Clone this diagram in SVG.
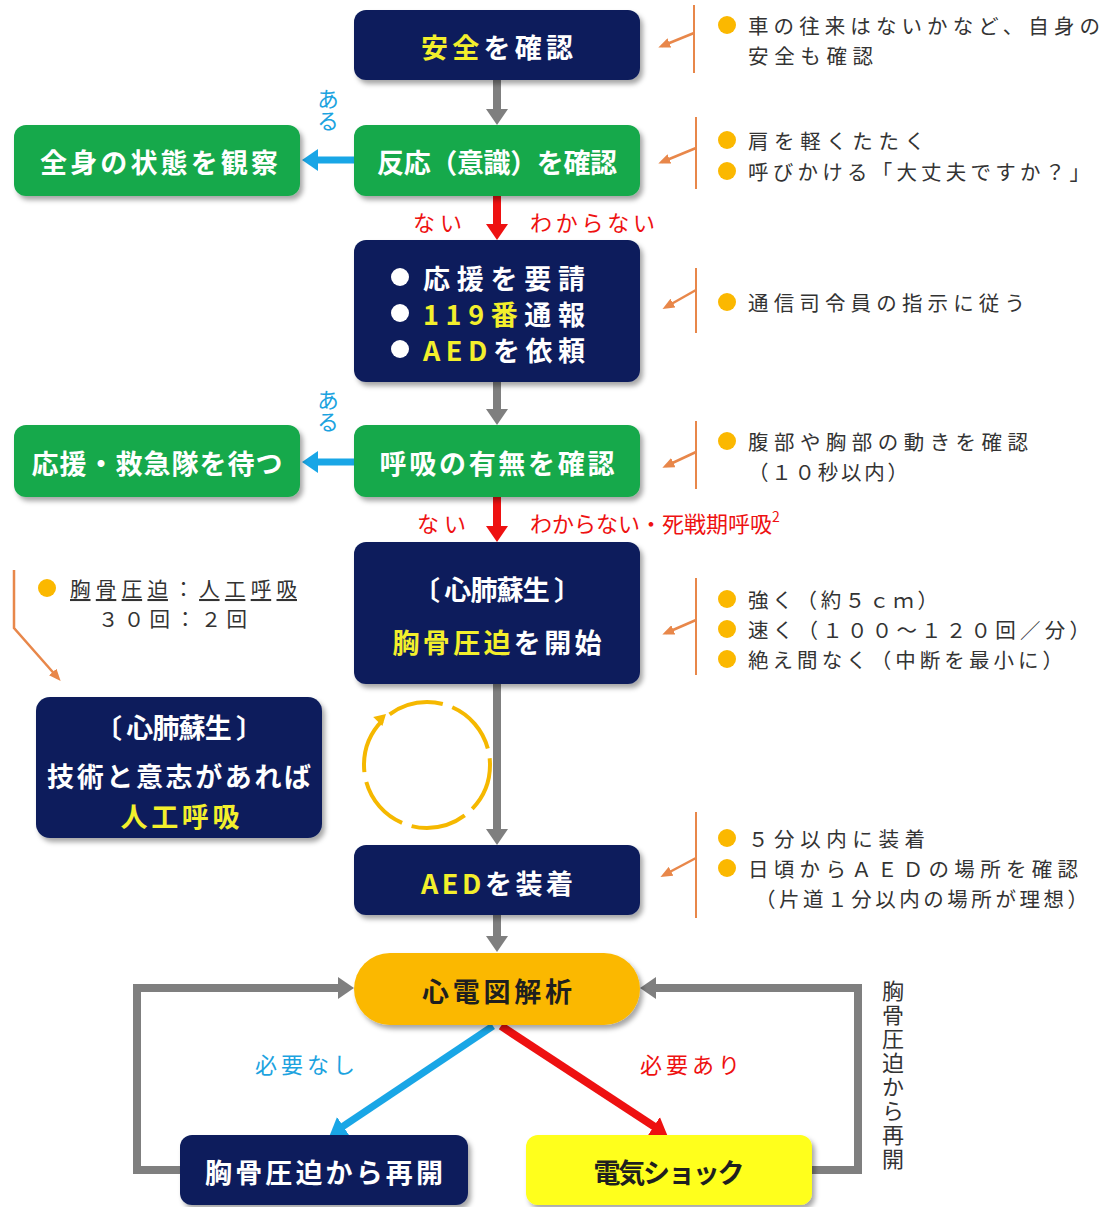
<svg xmlns="http://www.w3.org/2000/svg" width="1109" height="1207" viewBox="0 0 1109 1207">
<defs>
<filter id="sh" x="-10%" y="-10%" width="125%" height="130%">
<feDropShadow dx="3" dy="4" stdDeviation="2.5" flood-color="#000" flood-opacity="0.35"/>
</filter>
<marker id="aGray" viewBox="0 0 16 22" markerWidth="16" markerHeight="22" refX="5" refY="11" orient="auto" markerUnits="userSpaceOnUse"><path d="M0,0 L16,11 L0,22 z" fill="#7f7f7f"/></marker>
<marker id="aRed" viewBox="0 0 16 22" markerWidth="16" markerHeight="22" refX="5" refY="11" orient="auto" markerUnits="userSpaceOnUse"><path d="M0,0 L16,11 L0,22 z" fill="#ee1111"/></marker>
<marker id="aBlue" viewBox="0 0 16 22" markerWidth="16" markerHeight="22" refX="5" refY="11" orient="auto" markerUnits="userSpaceOnUse"><path d="M0,0 L16,11 L0,22 z" fill="#19a6e6"/></marker>
<marker id="aOr" viewBox="0 0 12 10" markerWidth="12" markerHeight="10" refX="8" refY="5" orient="auto" markerUnits="userSpaceOnUse"><path d="M0,0 L12,5 L0,10 z" fill="#e8874a"/></marker>
</defs>
<style>
.navy{fill:#0c1d5c;filter:url(#sh)}
.green{fill:#17a94b;filter:url(#sh)}
.pill{fill:#fbb800;filter:url(#sh)}
.ybox{fill:#ffff1a;filter:url(#sh)}
.bt{font-family:"Noto Sans CJK JP","Noto Sans",sans-serif;font-weight:700;font-size:27px;fill:#fff;text-anchor:middle;dominant-baseline:central}
.dk{fill:#1f1f1f}
.yl{fill:#f3ef2c}
.nt{font-family:"Noto Sans CJK JP","Noto Sans",sans-serif;font-size:20.5px;fill:#333;dominant-baseline:central}
.lbR{font-family:"Noto Sans CJK JP",sans-serif;font-size:22px;fill:#ee1111;dominant-baseline:central}
.lbB{font-family:"Noto Sans CJK JP",sans-serif;font-size:22px;fill:#1ca3df;dominant-baseline:central}
.vt{writing-mode:vertical-rl;font-family:"Noto Sans CJK JP",sans-serif;font-size:22px}
.dot{fill:#fbb800}
.brk{stroke:#e8874a;stroke-width:2;fill:none}
.cg{stroke:#7f7f7f;stroke-width:8;fill:none}
.cr{stroke:#ee1111;stroke-width:8;fill:none}
.cb{stroke:#19a6e6;stroke-width:7;fill:none}
.co{stroke:#e8874a;stroke-width:2.5;fill:none}
</style>

<g id="connectors">
<line class="cg" x1="497" y1="80" x2="497" y2="114" marker-end="url(#aGray)"/>
<line class="cr" x1="497" y1="196" x2="497" y2="229" marker-end="url(#aRed)"/>
<line class="cg" x1="497" y1="382" x2="497" y2="414" marker-end="url(#aGray)"/>
<line class="cr" x1="497" y1="497" x2="497" y2="531" marker-end="url(#aRed)"/>
<line class="cg" x1="497" y1="684" x2="497" y2="834" marker-end="url(#aGray)"/>
<line class="cg" x1="497" y1="915" x2="497" y2="941" marker-end="url(#aGray)"/>
<line class="cb" x1="354" y1="160" x2="313" y2="160" marker-end="url(#aBlue)"/>
<line class="cb" x1="354" y1="462" x2="313" y2="462" marker-end="url(#aBlue)"/>
<polyline class="cg" points="180,1170 137,1170 137,988 343,988" marker-end="url(#aGray)"/>
<polyline class="cg" points="812,1170 858,1170 858,988 651,988" marker-end="url(#aGray)"/>
<line class="cb" x1="493" y1="1026" x2="339" y2="1129" stroke-width="8" marker-end="url(#aBlue)"/>
<line class="cr" x1="501" y1="1026" x2="658" y2="1129" marker-end="url(#aRed)"/>
<line class="co" x1="694" y1="33" x2="662" y2="46" marker-end="url(#aOr)"/>
<line class="co" x1="696" y1="148" x2="662" y2="162" marker-end="url(#aOr)"/>
<line class="co" x1="696" y1="290" x2="666" y2="307" marker-end="url(#aOr)"/>
<line class="co" x1="696" y1="452" x2="666" y2="466" marker-end="url(#aOr)"/>
<line class="co" x1="696" y1="620" x2="666" y2="633" marker-end="url(#aOr)"/>
<line class="co" x1="696" y1="858" x2="664" y2="875" marker-end="url(#aOr)"/>
<path class="co" d="M14,570 L14,628 L58,678" marker-end="url(#aOr)"/>
</g>

<g id="labels">
<text class="vt" x="328" y="88" fill="#1ca3df">ある</text>
<text class="vt" x="328" y="389" fill="#1ca3df">ある</text>
<text class="lbR" x="413" y="221" textLength="49">ない</text>
<text class="lbR" x="530" y="221" textLength="125">わからない</text>
<text class="lbR" x="417" y="522" textLength="49">ない</text>
<text class="lbR" x="530" y="522">わからない・死戦期呼吸<tspan font-size="14" dy="-6">2</tspan></text>
<text class="lbB" x="255" y="1063" textLength="100">必要なし</text>
<text class="lbR" x="640" y="1063" textLength="100">必要あり</text>
<text class="vt" x="893" y="980" fill="#333" style="letter-spacing:2px">胸骨圧迫から再開</text>
</g>

<g id="cycle">
<circle cx="427" cy="765" r="63" fill="none" stroke="#f5b800" stroke-width="4" stroke-dasharray="56 10" stroke-dashoffset="7.6"/>
<polygon points="386,714 382.4,726 373.2,717" fill="#f5b800"/>
</g>

<g id="n1"><rect class="navy" x="354" y="10" width="286" height="70" rx="12"/>
<text class="bt" x="497" y="46" textLength="152"><tspan class="yl">安全</tspan>を確認</text></g>

<g id="n2"><rect class="green" x="354" y="125" width="286" height="71" rx="12"/>
<text class="bt" x="497" y="161" textLength="240">反応（意識）を確認</text></g>

<g id="n3"><rect class="green" x="14" y="125" width="286" height="71" rx="12"/>
<text class="bt" x="159" y="161" textLength="238">全身の状態を観察</text></g>

<g id="n4"><rect class="navy" x="354" y="240" width="286" height="142" rx="12"/>
<circle cx="400" cy="277" r="9" fill="#fff"/><circle cx="400" cy="313" r="9" fill="#fff"/><circle cx="400" cy="349" r="9" fill="#fff"/>
<text class="bt" style="text-anchor:start"><tspan x="423" y="277" textLength="162">応援を要請</tspan><tspan x="423" y="313" textLength="162"><tspan class="yl">119番</tspan>通報</tspan><tspan x="423" y="349" textLength="162"><tspan class="yl">AED</tspan>を依頼</tspan></text></g>

<g id="n5"><rect class="green" x="354" y="425" width="286" height="72" rx="12"/>
<text class="bt" x="497" y="462" textLength="235">呼吸の有無を確認</text></g>

<g id="n6"><rect class="green" x="14" y="425" width="286" height="72" rx="12"/>
<text class="bt" x="157" y="462" textLength="251">応援・救急隊を待つ</text></g>

<g id="n7"><rect class="navy" x="354" y="542" width="286" height="142" rx="12"/>
<text class="bt"><tspan x="497" y="588" textLength="168">〔 心肺蘇生 〕</tspan><tspan x="497" y="641" textLength="209"><tspan class="yl">胸骨圧迫</tspan>を開始</tspan></text></g>

<g id="n8"><rect class="navy" x="36" y="697" width="286" height="141" rx="14"/>
<text class="bt"><tspan x="179" y="726" textLength="168">〔 心肺蘇生 〕</tspan><tspan x="179" y="775" textLength="264">技術と意志があれば</tspan><tspan class="yl" x="180" y="815" textLength="119">人工呼吸</tspan></text></g>

<g id="n9"><rect class="navy" x="354" y="845" width="286" height="70" rx="12"/>
<text class="bt" x="497" y="882" textLength="152"><tspan class="yl">AED</tspan>を装着</text></g>

<g id="n10"><rect class="pill" x="354" y="953" width="286" height="72" rx="36"/>
<text class="bt dk" x="497" y="990" textLength="150">心電図解析</text></g>

<g id="n11"><rect class="navy" x="180" y="1135" width="288" height="70" rx="12"/>
<text class="bt" x="324" y="1171" textLength="238">胸骨圧迫から再開</text></g>

<g id="n12"><rect class="ybox" x="526" y="1135" width="286" height="70" rx="12"/>
<text class="bt dk" x="669" y="1171" textLength="151">電気ショック</text></g>

<g id="note1"><line class="brk" x1="694" y1="5" x2="694" y2="73"/>
<circle class="dot" cx="727" cy="25" r="9"/>
<text class="nt"><tspan x="748" y="25" textLength="352">車の往来はないかなど、自身の</tspan><tspan x="748" y="55" textLength="125">安全も確認</tspan></text></g>

<g id="note2"><line class="brk" x1="696" y1="117" x2="696" y2="189"/>
<circle class="dot" cx="727" cy="140" r="9"/><circle class="dot" cx="727" cy="171" r="9"/>
<text class="nt"><tspan x="748" y="140" textLength="177">肩を軽くたたく</tspan><tspan x="748" y="171" textLength="342">呼びかける「大丈夫ですか？」</tspan></text></g>

<g id="note3"><line class="brk" x1="696" y1="268" x2="696" y2="333"/>
<circle class="dot" cx="727" cy="302" r="9"/>
<text class="nt" x="748" y="302" textLength="277">通信司令員の指示に従う</text></g>

<g id="note4"><line class="brk" x1="696" y1="421" x2="696" y2="489"/>
<circle class="dot" cx="727" cy="441" r="9"/>
<text class="nt"><tspan x="748" y="441" textLength="280">腹部や胸部の動きを確認</tspan><tspan x="748" y="471" textLength="160">（１０秒以内）</tspan></text></g>

<g id="note5"><line class="brk" x1="696" y1="578" x2="696" y2="675"/>
<circle class="dot" cx="727" cy="599" r="9"/><circle class="dot" cx="727" cy="629" r="9"/><circle class="dot" cx="727" cy="659" r="9"/>
<text class="nt"><tspan x="748" y="599" textLength="190">強く（約５ｃｍ）</tspan><tspan x="748" y="629" textLength="342">速く（１００～１２０回／分）</tspan><tspan x="748" y="659" textLength="315">絶え間なく（中断を最小に）</tspan></text></g>

<g id="note6"><line class="brk" x1="696" y1="812" x2="696" y2="918"/>
<circle class="dot" cx="727" cy="838" r="9"/><circle class="dot" cx="727" cy="868" r="9"/>
<text class="nt"><tspan x="748" y="838" textLength="177">５分以内に装着</tspan><tspan x="748" y="868" textLength="330">日頃からＡＥＤの場所を確認</tspan><tspan x="755" y="898" textLength="333">（片道１分以内の場所が理想）</tspan></text></g>

<g id="note7">
<circle class="dot" cx="47" cy="588" r="9"/>
<text class="nt"><tspan x="70" y="588" textLength="227"><tspan text-decoration="underline">胸骨圧迫</tspan>：<tspan text-decoration="underline">人工呼吸</tspan></tspan><tspan x="98" y="618" textLength="149">３０回：２回</tspan></text></g>
</svg>
